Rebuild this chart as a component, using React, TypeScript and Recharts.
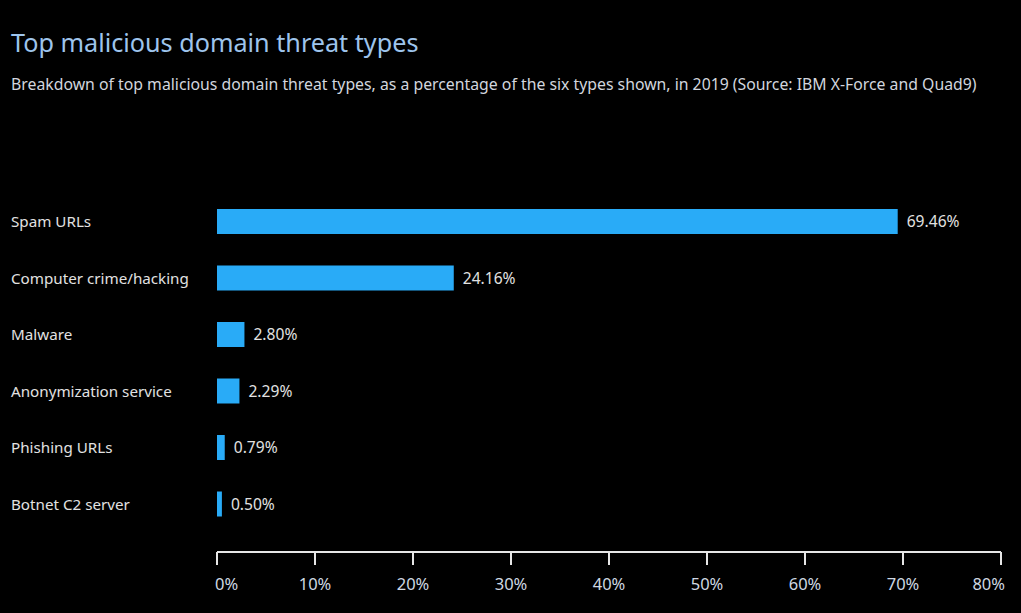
import { BarChart, Bar, XAxis, YAxis, LabelList } from "recharts";

// Threat types and their share (%) in 2019
const categories = [
  "Spam URLs",
  "Computer crime/hacking",
  "Malware",
  "Anonymization service",
  "Phishing URLs",
  "Botnet C2 server",
];
const shares = [69.46, 24.16, 2.8, 2.29, 0.79, 0.5];
const xTicks = [0, 10, 20, 30, 40, 50, 60, 70, 80];

const data = categories.map((name, i) => ({ name, share: shares[i] }));

const FONT = '"Noto Sans", "Open Sans", sans-serif';

function CategoryTick({ y, payload }: any) {
  return (
    <text x={11} y={y} textAnchor="start" dominantBaseline="central" fill="#e2e2e2" fontSize={15.2} fontFamily={FONT}>
      {payload.value}
    </text>
  );
}

function PercentTick({ x, y, payload, index }: any) {
  // end labels are pulled inward like the original
  let anchor: "start" | "middle" | "end" = "middle";
  let dx = 0;
  if (index === 0) {
    anchor = "start";
    dx = -2;
  } else if (index === xTicks.length - 1) {
    anchor = "end";
    dx = 4;
  }
  return (
    <text x={x + dx} y={y + 16} textAnchor={anchor} dominantBaseline="central" fill="#cfd8e2" fontSize={16.5} fontFamily={FONT}>
      {payload.value}%
    </text>
  );
}

export default function App() {
  return (
    <div style={{ position: "absolute", left: 0, top: 0, width: 1021, height: 613, background: "#000", fontFamily: FONT }}>
      <div style={{ position: "absolute", left: 11, top: 27, fontSize: 25.2, lineHeight: "30px", color: "#9ec4ec" }}>
        Top malicious domain threat types
      </div>
      <div style={{ position: "absolute", left: 11, top: 74, fontSize: 15.8, lineHeight: "20px", color: "#d2d6de", whiteSpace: "nowrap" }}>
        Breakdown of top malicious domain threat types, as a percentage of the six types shown, in 2019 (Source: IBM X-Force and Quad9)
      </div>
      <div style={{ position: "absolute", left: 0, top: 0 }}>
        <BarChart
          width={1021}
          height={613}
          data={data}
          layout="vertical"
          margin={{ top: 193, right: 20, bottom: 0, left: 0 }}
        >
          <XAxis
            type="number"
            domain={[0, 80]}
            ticks={xTicks}
            height={61}
            axisLine={{ stroke: "#e6e6e6", strokeWidth: 2 }}
            tickLine={{ stroke: "#e6e6e6", strokeWidth: 2 }}
            tickSize={13}
            tick={<PercentTick />}
            interval={0}
          />
          <YAxis
            type="category"
            dataKey="name"
            width={217}
            axisLine={false}
            tickLine={false}
            padding={{ top: 0, bottom: 20 }}
            tick={<CategoryTick />}
            interval={0}
          />
          <Bar dataKey="share" fill="#29abf7" barSize={25} isAnimationActive={false}>
            <LabelList
              dataKey="share"
              position="right"
              offset={9}
              fill="#e2e2e2"
              fontSize={15.6}
              fontFamily={FONT}
              formatter={(v: any) => `${Number(v).toFixed(2)}%`}
            />
          </Bar>
        </BarChart>
      </div>
    </div>
  );
}
